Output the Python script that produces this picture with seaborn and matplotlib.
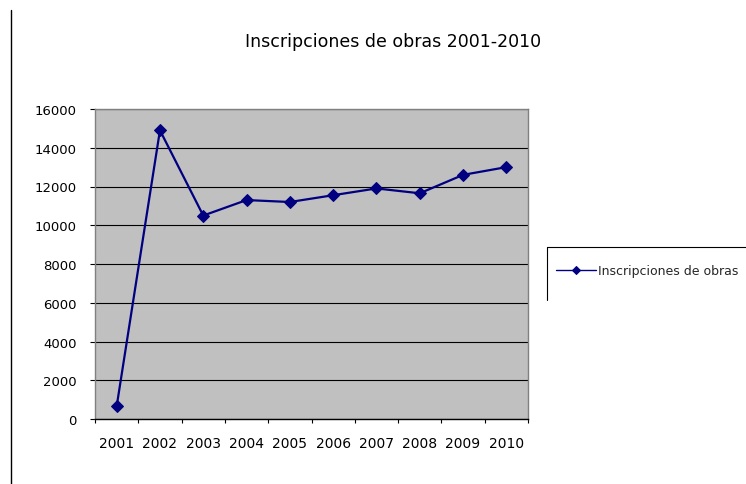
import matplotlib
matplotlib.use('Agg')
import matplotlib.pyplot as plt
import seaborn as sns
import numpy as np
import pandas as pd
from matplotlib.lines import Line2D

# ---- data ----
years = ['2001', '2002', '2003', '2004', '2005', '2006', '2007', '2008', '2009', '2010']
values = [650, 14900, 10500, 11300, 11200, 11550, 11900, 11650, 12600, 13000]
series_name = 'Inscripciones de obras'
title = 'Inscripciones de obras 2001-2010'
yticks = [0, 2000, 4000, 6000, 8000, 10000, 12000, 14000, 16000]

sns.set_theme(style='white')
plt.rcParams['font.family'] = ['DejaVu Sans']

W, H = 746, 485
fig = plt.figure(figsize=(W / 100, H / 100), dpi=100)
fig.patch.set_facecolor('white')
ax = fig.add_axes([95 / W, 65 / H, 433 / W, 310 / H])

df = pd.DataFrame({'year': years, 'value': values})
sns.lineplot(data=df, x='year', y='value', ax=ax, color='#000080',
             marker='D', markersize=6.5, markeredgecolor='#000080',
             linewidth=1.6, label=series_name, zorder=3)

ax.set_facecolor('#C0C0C0')
ax.set_xlim(-0.5, len(years) - 0.5)
ax.set_ylim(yticks[0], yticks[-1])
ax.set_xlabel('')
ax.set_ylabel('')

ax.set_yticks(yticks)
ax.set_yticklabels([str(t) for t in yticks])
ax.yaxis.grid(True, color='black', linewidth=0.8)
ax.xaxis.grid(False)
ax.set_axisbelow(True)

ax.tick_params(axis='y', which='major', left=True, direction='out', length=3.6,
               width=0.8, color='black', pad=9.5, labelsize=9.5, labelcolor='black')
ax.set_xticks(range(len(years)))
ax.set_xticklabels(years)
ax.set_xticks(np.arange(-0.5, len(years), 1.0), minor=True)
ax.tick_params(axis='x', which='major', bottom=False, length=0, pad=12,
               labelsize=10, labelcolor='black')
ax.tick_params(axis='x', which='minor', bottom=True, direction='out', length=3,
               width=0.8, color='black')

for side in ['top', 'right', 'left']:
    ax.spines[side].set_visible(True)
    ax.spines[side].set_color('#808080')
    ax.spines[side].set_linewidth(1.0)
ax.spines['bottom'].set_visible(True)
ax.spines['bottom'].set_color('black')
ax.spines['bottom'].set_linewidth(1.0)

# legend
leg = ax.legend(loc='center left', bbox_to_anchor=(556 / W, 1 - 272 / H),
                bbox_transform=fig.transFigure, frameon=False, handlelength=3.2,
                handletextpad=0.2, borderpad=0, borderaxespad=0, fontsize=9)
for h in leg.legend_handles:
    h.set_markersize(4.5)
    h.set_linewidth(1.0)

# legend box (partially cut off at right)
fig.add_artist(Line2D([547 / W, 547 / W], [1 - 248 / H, 1 - 301 / H],
                      transform=fig.transFigure, color='black', linewidth=0.8))
fig.add_artist(Line2D([547 / W, 1.0], [1 - 248 / H, 1 - 248 / H],
                      transform=fig.transFigure, color='black', linewidth=0.8))

# outer left border line
fig.add_artist(Line2D([10.5 / W, 10.5 / W], [1 - 11 / H, 0],
                      transform=fig.transFigure, color='black', linewidth=1.0))

fig.text(393 / W, 1 - 47.3 / H, title, ha='center', va='baseline',
         fontsize=12.5, color='black')

fig.savefig('out.png', dpi=100)
